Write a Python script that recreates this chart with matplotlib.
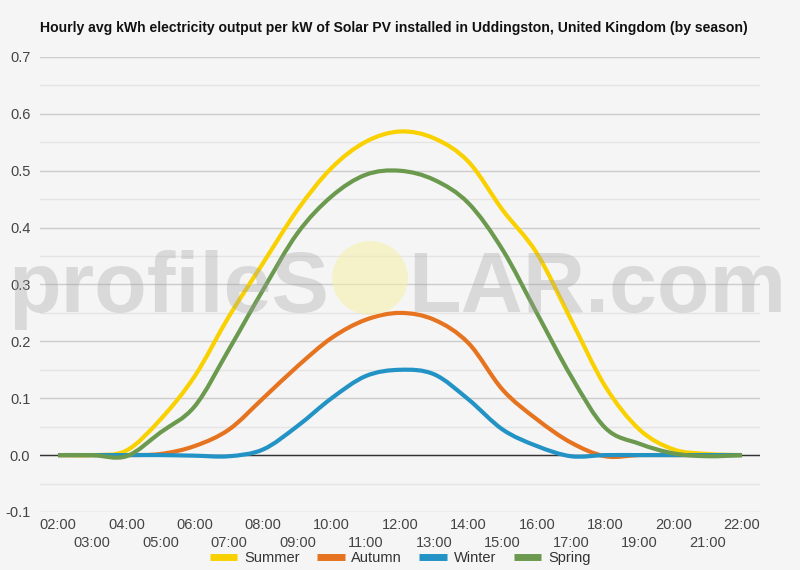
import numpy as np
import matplotlib
matplotlib.use("Agg")
import matplotlib.pyplot as plt
from matplotlib.path import Path
from matplotlib.patches import PathPatch, Ellipse
from matplotlib.lines import Line2D

# hourly values, 02:00 .. 22:00
hours = list(range(2, 23))
hour_labels = [f"{h:02d}:00" for h in hours]

summer = [0.0, 0.0, 0.008, 0.063, 0.139, 0.244, 0.338, 0.431, 0.505, 0.551, 0.569,
          0.557, 0.516, 0.431, 0.355, 0.238, 0.121, 0.045, 0.010, 0.002, 0.0]
autumn = [0.0, 0.0, 0.0, 0.002, 0.016, 0.045, 0.100, 0.156, 0.206, 0.238, 0.250,
          0.238, 0.197, 0.115, 0.063, 0.022, -0.002, 0.0, 0.0, 0.0, 0.0]
winter = [0.0, 0.0, 0.0, 0.0, -0.001, -0.002, 0.010, 0.051, 0.100, 0.139, 0.150,
          0.142, 0.098, 0.045, 0.016, -0.002, 0.0, 0.0, 0.0, 0.0, 0.0]
spring = [0.0, 0.0, -0.002, 0.040, 0.086, 0.186, 0.291, 0.390, 0.455, 0.493, 0.500,
          0.484, 0.443, 0.361, 0.250, 0.139, 0.048, 0.020, 0.003, -0.002, 0.0]

series = [("Summer", summer, "#f9d100"),
          ("Autumn", autumn, "#e6731f"),
          ("Winter", winter, "#2293c4"),
          ("Spring", spring, "#6b9a4f")]

BG = "#f5f5f5"
TXT = "#444444"
plt.rcParams["font.family"] = ["Liberation Sans", "DejaVu Sans"]


def smooth_path(x, y):
    # Catmull-Rom style cubic bezier through the points (curved line rendering)
    x = np.asarray(x, float)
    y = np.asarray(y, float)
    px = np.concatenate([[x[0]], x, [x[-1]]])
    py = np.concatenate([[y[0]], y, [y[-1]]])
    verts = [(x[0], y[0])]
    codes = [Path.MOVETO]
    for i in range(1, len(px) - 2):
        c1 = (px[i] + (px[i + 1] - px[i - 1]) / 6, py[i] + (py[i + 1] - py[i - 1]) / 6)
        c2 = (px[i + 1] - (px[i + 2] - px[i]) / 6, py[i + 1] - (py[i + 2] - py[i]) / 6)
        verts += [c1, c2, (px[i + 1], py[i + 1])]
        codes += [Path.CURVE4] * 3
    return Path(verts, codes)


fig = plt.figure(figsize=(8, 5.7), dpi=100, facecolor=BG)
ax = fig.add_axes([0.05, 0.1018, 0.90, 0.7982])
ax.set_facecolor(BG)

for name, vals, col in series:
    patch = PathPatch(smooth_path(hours, vals), facecolor="none", edgecolor=col,
                      lw=3.0, capstyle="butt", joinstyle="round", zorder=3)
    ax.add_patch(patch)

ax.set_xlim(1.474, 22.526)
ax.set_ylim(-0.1, 0.7)

ax.set_yticks(np.arange(-0.1, 0.71, 0.1))
ax.set_yticklabels([f"{v:.1f}" for v in np.arange(-0.1, 0.71, 0.1)])
ax.set_yticks(np.arange(-0.05, 0.7, 0.1), minor=True)
ax.grid(True, axis="y", which="major", color="#cccccc", lw=1)
ax.grid(True, axis="y", which="minor", color="#e4e4e4", lw=1)
ax.axhline(0, color="#333333", lw=1, zorder=2)

ax.set_xticks(hours[::2])
ax.set_xticklabels(hour_labels[::2])
ax.set_xticks(hours[1::2], minor=True)
ax.set_xticklabels(hour_labels[1::2], minor=True)
ax.tick_params(axis="x", which="major", length=0, pad=4, labelsize=10.5, labelcolor=TXT)
ax.tick_params(axis="x", which="minor", length=0, pad=17.5, labelsize=10.5, labelcolor=TXT)
ax.tick_params(axis="y", which="both", length=0, pad=7, labelsize=10.5, labelcolor=TXT)
for s in ax.spines.values():
    s.set_visible(False)

# watermark
fig.text(329 / 800, 1 - 312 / 570, "profileS", ha="right", va="baseline",
         fontsize=62, color="#a0a0a0", alpha=0.32, zorder=10, weight="bold")
fig.text(408 / 800, 1 - 312 / 570, "LAR.com", ha="left", va="baseline",
         fontsize=62, color="#a0a0a0", alpha=0.32, zorder=10, weight="bold")
sun = Ellipse((370 / 800, 1 - 278 / 570), 76 / 800, 74 / 570, transform=fig.transFigure,
              facecolor="#f6f0a8", alpha=0.55, edgecolor="none", zorder=10)
fig.patches.append(sun)

fig.text(40 / 800, 1 - 28 / 570, "Hourly avg kWh electricity output per kW of Solar PV installed in "
         "Uddingston, United Kingdom (by season)", ha="left", va="center",
         fontsize=10.1, weight="bold", color="#111111")

handles = [Line2D([], [], color=c, lw=5, solid_capstyle="butt") for _, _, c in series]
fig.legend(handles, [n for n, _, _ in series], loc="center", bbox_to_anchor=(0.5, 1 - 558 / 570),
           ncol=4, frameon=False, fontsize=10.5, handlelength=1.9, handletextpad=0.45,
           columnspacing=1.2, labelcolor="#333333")

fig.savefig("out.png", dpi=100, facecolor=BG)
